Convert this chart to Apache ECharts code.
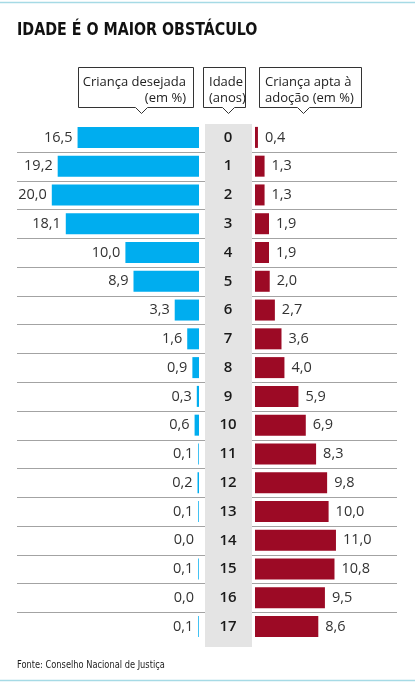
<!DOCTYPE html>
<html>
<head>
<meta charset="utf-8">
<script src="https://cdn.jsdelivr.net/npm/echarts@6/dist/echarts.min.js"></script>
<style>
html,body{margin:0;padding:0;background:#fff;}
#c{width:415px;height:684px;}
</style>
</head>
<body>
<div id="c"></div>
<script>
var ages = ['0','1','2','3','4','5','6','7','8','9','10','11','12','13','14','15','16','17'];
var desired = [16.5,19.2,20.0,18.1,10.0,8.9,3.3,1.6,0.9,0.3,0.6,0.1,0.2,0.1,0.0,0.1,0.0,0.1];
var available = [0.4,1.3,1.3,1.9,1.9,2.0,2.7,3.6,4.0,5.9,6.9,8.3,9.8,10.0,11.0,10.8,9.5,8.6];
var titleText = 'IDADE É O MAIOR OBSTÁCULO';
var leftHeader = ['Criança desejada', '(em %)'];
var midHeader = ['Idade', '(anos)'];
var rightHeader = ['Criança apta à', 'adoção (em %)'];
var sourceText = 'Fonte: Conselho Nacional de Justiça';

var BLUE = '#00ADEF', RED = '#9C0A25', GRAY = '#E4E4E4', SEP = '#A3A3A3', FRAME = '#A6DAE5';
var numFont = '"Open Sans", "Noto Sans", sans-serif';
function fmt(v){ return v.toFixed(1).replace('.', ','); }

var chart = echarts.init(document.getElementById('c'), null, {renderer:'canvas'});

function box(x1, y1, x2, y2, px){
  return {
    type:'polygon', z:5,
    shape:{points:[[x1,y1],[x2,y1],[x2,y2],[px+6,y2],[px,y2+6],[px-6,y2],[x1,y2]]},
    style:{fill:'#fff', stroke:'#333', lineWidth:1}
  };
}
function txt(x, y, s, align, font){
  return {type:'text', z:6, style:{x:x, y:y, text:s, align:align, verticalAlign:'middle', font:font, fill:'#222'}};
}
var hFont = '13px "Open Sans", "Noto Sans", sans-serif';

var boundaries = [];
for (var i = 0; i < ages.length - 1; i++) boundaries.push([0, i]);

chart.setOption({
  animation:false,
  grid:[
    {left:15, width:184, top:123, height:518},
    {left:255, width:147.2, top:123, height:518}
  ],
  xAxis:[
    {gridIndex:0, type:'value', min:0, max:25, inverse:true, show:false},
    {gridIndex:1, type:'value', min:0, max:20, show:false}
  ],
  yAxis:[
    {gridIndex:0, type:'category', data:ages, inverse:true, show:false},
    {gridIndex:1, type:'category', data:ages, inverse:true,
      axisLine:{show:false}, axisTick:{show:false}, splitLine:{show:false},
      axisLabel:{show:true, margin:27, align:'center', fontSize:15, fontWeight:600, color:'#1a1a1a', fontFamily:numFont, padding:[4,0,0,0]}
    }
  ],
  graphic:[
    {type:'line', z:-1, shape:{x1:0, y1:2.5, x2:415, y2:2.5}, style:{stroke:FRAME, lineWidth:1.5}},
    {type:'line', z:-1, shape:{x1:0, y1:680.5, x2:415, y2:680.5}, style:{stroke:FRAME, lineWidth:1.5}},
    {type:'text', z:6, x:17, y:30, scaleX:0.88,
      style:{x:0, y:0, text:titleText, align:'left', verticalAlign:'middle',
      font:'bold 18px "DejaVu Sans Condensed", "DejaVu Sans", sans-serif', fill:'#111'}},
    box(78.5, 67.5, 193.5, 107.5, 141.5),
    box(203.5, 67.5, 245.5, 107.5, 228.5),
    box(259.5, 67.5, 361.5, 107.5, 303.5),
    txt(186, 82, leftHeader[0], 'right', hFont),
    txt(186, 98, leftHeader[1], 'right', hFont),
    txt(209, 82, midHeader[0], 'left', hFont),
    txt(209, 98, midHeader[1], 'left', hFont),
    txt(265, 82, rightHeader[0], 'left', hFont),
    txt(265, 98, rightHeader[1], 'left', hFont),
    {type:'rect', z:-2, shape:{x:205, y:124, width:47, height:523}, style:{fill:GRAY}},
    {type:'text', z:6, x:17, y:665, scaleX:0.92,
      style:{x:0, y:0, text:sourceText, align:'left', verticalAlign:'middle',
      font:'10px "DejaVu Sans Condensed", "DejaVu Sans", sans-serif', fill:'#222'}}
  ],
  series:[
    {
      type:'custom', xAxisIndex:1, yAxisIndex:1, z:1, silent:true,
      data:boundaries,
      renderItem:function(params, api){
        var p = api.coord([0, api.value(1)]);
        var h = api.size([0, 1])[1];
        var y = Math.round(p[1] + h/2) + 0.5;
        return {type:'group', children:[
          {type:'line', shape:{x1:17, y1:y, x2:205, y2:y}, style:{stroke:SEP, lineWidth:1}},
          {type:'line', shape:{x1:252, y1:y, x2:397, y2:y}, style:{stroke:SEP, lineWidth:1}}
        ]};
      }
    },
    {
      type:'bar', xAxisIndex:0, yAxisIndex:0, data:desired, barWidth:21, z:3,
      itemStyle:{color:BLUE},
      label:{show:true, position:'left', distance:5, formatter:function(p){return fmt(p.value);},
        fontFamily:numFont, fontSize:14.5, color:'#333'}
    },
    {
      type:'bar', xAxisIndex:1, yAxisIndex:1, data:available, barWidth:21, z:3,
      itemStyle:{color:RED},
      label:{show:true, position:'right', distance:7, formatter:function(p){return fmt(p.value);},
        fontFamily:numFont, fontSize:14.5, color:'#333'}
    }
  ]
});
</script>
</body>
</html>
